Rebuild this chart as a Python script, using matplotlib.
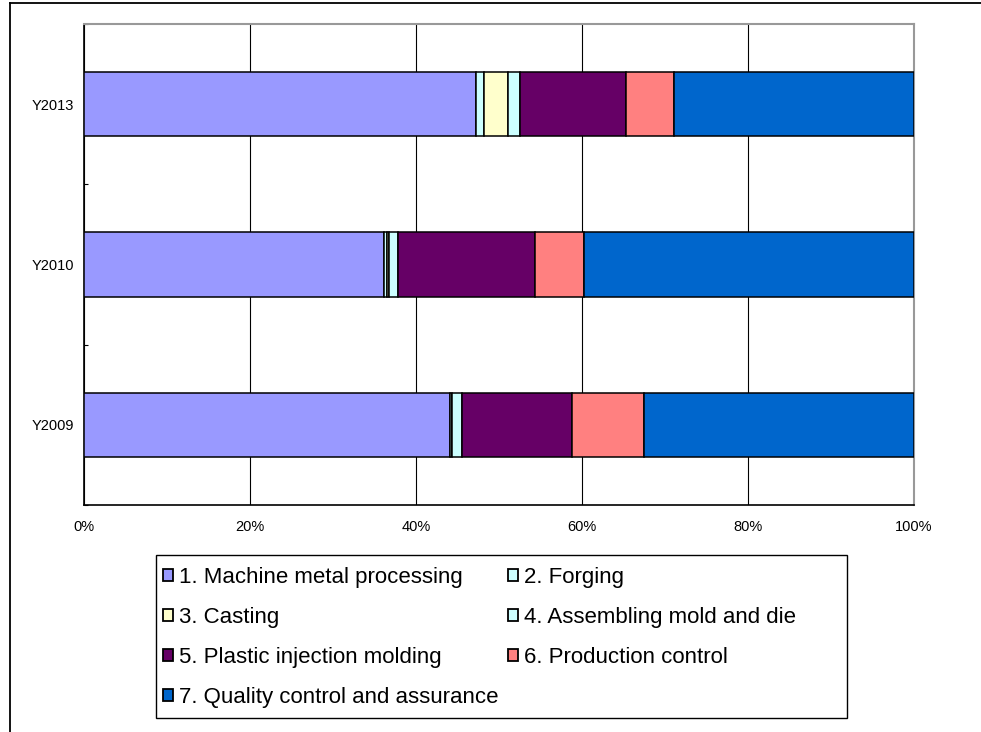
import matplotlib
matplotlib.use("Agg")
import matplotlib.pyplot as plt
import matplotlib.ticker as mticker
from matplotlib.patches import Patch, Rectangle
from matplotlib.lines import Line2D
import numpy as np

plt.rcParams["font.family"] = ["Liberation Sans", "DejaVu Sans"]

years = ["Y2009", "Y2010", "Y2013"]
categories = [
    "1. Machine metal processing",
    "2. Forging",
    "3. Casting",
    "4. Assembling mold and die",
    "5. Plastic injection molding",
    "6. Production control",
    "7. Quality control and assurance",
]
# shares in percent, one list per category, in the order of `years`
machine = [44.1, 36.1, 47.2]
forging = [0.2, 0.4, 1.0]
casting = [0.0, 0.2, 2.9]
assembling = [1.2, 1.1, 1.4]
plastic = [13.3, 16.5, 12.8]
production = [8.7, 5.9, 5.8]
quality = [32.5, 39.8, 28.9]

colors = ["#9999FF", "#CCFFFF", "#FFFFCC", "#CCFFFF", "#660066", "#FF8080", "#0066CC"]

series = [machine, forging, casting, assembling, plastic, production, quality]

W, H = 981, 732
fig = plt.figure(figsize=(W / 100, H / 100), dpi=100)
ax = fig.add_axes([84 / W, 1 - 505 / H, 830 / W, 481 / H])

y = np.arange(len(years))
totals = np.sum(series, axis=0)
left = np.zeros(len(years))
for vals, col in zip(series, colors):
    share = np.array(vals) / totals
    ax.barh(y, share, left=left, height=0.4, color=col,
            edgecolor="black", linewidth=1.1, zorder=3)
    left += share

ax.set_xlim(0, 1)
ax.set_ylim(-0.5, 2.5)
ax.set_xticks(np.linspace(0, 1, 6))
ax.xaxis.set_major_formatter(mticker.PercentFormatter(1.0, decimals=0))
ax.set_yticks(y)
ax.set_yticklabels(years)
ax.set_yticks([-0.5, 0.5, 1.5, 2.5], minor=True)
ax.tick_params(axis="x", length=0, pad=11, labelsize=10.5)
ax.tick_params(axis="y", which="major", length=0, pad=7, labelsize=10.5)
ax.tick_params(axis="y", which="minor", direction="in", length=3, width=0.8)
ax.grid(axis="x", color="black", linewidth=0.8, zorder=0)
ax.set_axisbelow(True)

for side in ("left", "bottom"):
    ax.spines[side].set_color("black")
    ax.spines[side].set_linewidth(1.2)
for side in ("top", "right"):
    ax.spines[side].set_color("#999999")
    ax.spines[side].set_linewidth(1.5)

# legend box, drawn separately so it can be wider than its entries
fig.add_artist(Rectangle((156 / W, 1 - 718 / H), 691 / W, 163 / H,
                         transform=fig.transFigure, facecolor="white",
                         edgecolor="black", linewidth=1.0))

# legend: two columns filled row by row
handles = [Patch(facecolor=c, edgecolor="black", linewidth=1.3) for c in colors]
order = [0, 2, 4, 6, 1, 3, 5]
leg = fig.legend([handles[i] for i in order], [categories[i] for i in order],
                 ncol=2, loc="upper left",
                 bbox_to_anchor=(163 / W, 1 - 567 / H),
                 fontsize=16, frameon=False,
                 handlelength=0.45, handleheight=0.45, handletextpad=0.25,
                 labelspacing=0.86, borderpad=0, borderaxespad=0,
                 columnspacing=0.45)

# outer chart frame (left and top edges)
fig.add_artist(Line2D([10 / W, 10 / W], [0, 1 - 3 / H], color="black",
                      linewidth=1.3, transform=fig.transFigure))
fig.add_artist(Line2D([10 / W, 1], [1 - 3 / H, 1 - 3 / H], color="black",
                      linewidth=1.3, transform=fig.transFigure))

fig.savefig("out.png", dpi=100)
